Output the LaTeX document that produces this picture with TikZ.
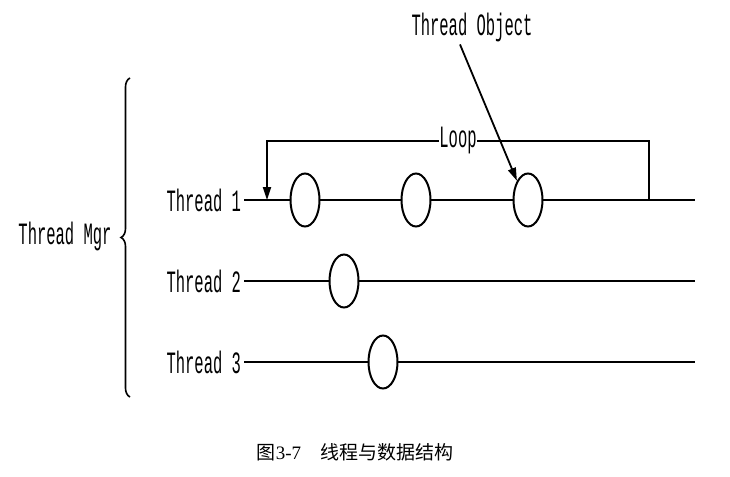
\documentclass[tikz,border=0pt]{standalone}
\usepackage{fontspec}
\setmainfont{Liberation Serif}
\newfontfamily\condfont[FakeStretch=0.5]{Liberation Mono}
\newfontfamily\cjkfont{Noto Sans CJK SC}
\usetikzlibrary{arrows.meta,decorations.pathreplacing,shapes.geometric}

\begin{document}
\begin{tikzpicture}[
  x=1pt,y=-1pt,>=Triangle,
  thread/.style={line width=2.6pt},
  lbl/.style={font=\condfont\fontsize{31}{32}\selectfont,inner sep=1pt,outer sep=2pt},
  obj/.style={ellipse,draw,line width=2pt,fill=white,minimum width=29pt,minimum height=53pt,inner sep=0pt},
  edge/.style={-{Triangle[length=13pt,width=8pt]},line width=1.8pt},
  loopline/.style={line width=1.8pt},
  caption/.style={font=\fontsize{19}{20}\selectfont}
]
\useasboundingbox (0,0) rectangle (730,476);

% Threads.
\foreach \i/\y in {1/200,2/281,3/362}{
  \node[lbl,anchor=east] (t\i) at (244,\y) {Thread \i};
  \coordinate (e\i) at (695,\y);
  \draw[thread] (t\i) -- (e\i);
}

% Loop over thread 1.
\coordinate (lr) at (649,200);
\coordinate (ll) at (267,200);
\coordinate (ltop) at (458,141);
\draw[loopline] (lr) |- (ltop);
\draw[edge,loopline] (ltop) -| (ll);
\node[lbl,fill=white,inner sep=0pt,outer sep=0pt] (loop) at (ltop) {Loop};

% Objects.
\node[obj] (o11) at (305,200) {};
\node[obj] (o12) at (416,200) {};
\node[obj] (o13) at (528,200) {};
\node[obj] (o21) at (344,281) {};
\node[obj] (o31) at (383,362) {};

% Thread object.
\node[lbl] (tobj) at (472,27) {Thread Object};
\draw[edge] ([xshift=-12pt]tobj.south) -- (o13.120);

% Manager.
\node[lbl] (mgr) at (65,236) {Thread Mgr};
\draw[line width=1.6pt,decorate,decoration={brace,amplitude=9pt}] (130,397) -- (130,78);

% Caption.
\node[caption] (cap) at (355,452) {{\cjkfont 图}3-7\quad{\cjkfont 线程与数据结构}};
\end{tikzpicture}
\end{document}
